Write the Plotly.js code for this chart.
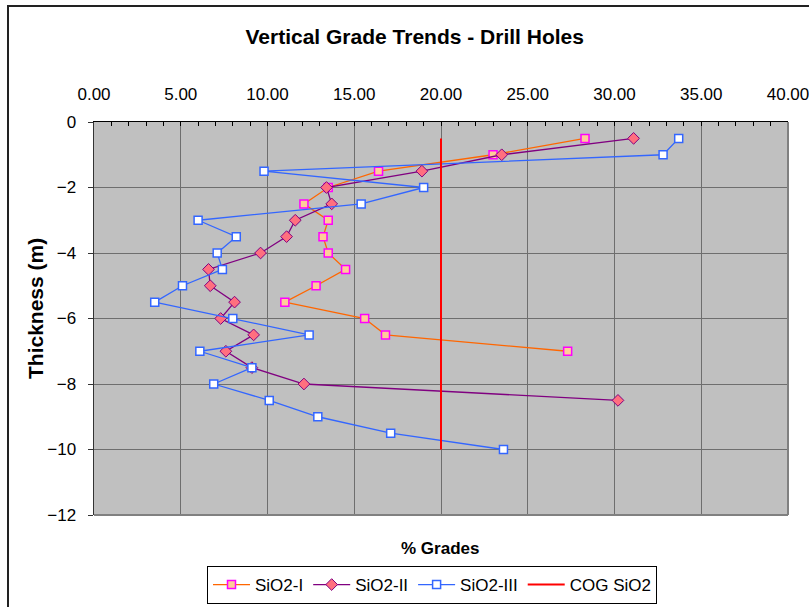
<!DOCTYPE html>
<html>
<head>
<meta charset="utf-8">
<script src="https://cdn.plot.ly/plotly-3.0.1.min.js"></script>
<style>
  html, body { margin: 0; padding: 0; background: #fff; }
  #wrap { position: relative; width: 809px; height: 607px; overflow: hidden; }
  #chart { width: 809px; height: 607px; }
  #frame { position: absolute; left: 7px; top: 5px; width: 900px; height: 700px;
           border: 2px solid #222; pointer-events: none; }
</style>
</head>
<body>
<div id="wrap">
  <div id="chart"></div>
  <div id="frame"></div>
</div>
<script>
// Thickness (m)
const depthI   = [-0.5, -1, -1.5, -2, -2.5, -3, -3.5, -4, -4.5, -5, -5.5, -6, -6.5, -7];
const depthII  = [-0.5, -1, -1.5, -2, -2.5, -3, -3.5, -4, -4.5, -5, -5.5, -6, -6.5, -7, -7.5, -8, -8.5];
const depthIII = [-0.5, -1, -1.5, -2, -2.5, -3, -3.5, -4, -4.5, -5, -5.5, -6, -6.5, -7, -7.5, -8, -8.5, -9, -9.5, -10];
// % Grades
const sio2I   = [28.3, 23.0, 16.4, 13.5, 12.1, 13.5, 13.2, 13.5, 14.5, 12.8, 11.0, 15.6, 16.8, 27.3];
const sio2II  = [31.1, 23.5, 18.9, 13.4, 13.7, 11.6, 11.1, 9.6, 6.6, 6.7, 8.1, 7.3, 9.2, 7.6, 9.1, 12.1, 30.2];
const sio2III = [33.7, 32.8, 9.8, 19.0, 15.4, 6.0, 8.2, 7.1, 7.4, 5.1, 3.5, 8.0, 12.4, 6.1, 9.1, 6.9, 10.1, 12.9, 17.1, 23.6];
const cogX = [20, 20];
const cogY = [-0.5, -10];
const seriesNames = ['SiO2-I', 'SiO2-II', 'SiO2-III', 'COG SiO2'];

const FONT = 'Liberation Sans, Arial, sans-serif';

const traces = [
  { x: sio2I, y: depthI, name: seriesNames[0], type: 'scatter', mode: 'lines+markers',
    line: { color: '#FF6600', width: 1.3 },
    marker: { symbol: 'square', size: 8, color: '#FFCC99', line: { color: '#FF00FF', width: 1.5 } } },
  { x: sio2II, y: depthII, name: seriesNames[1], type: 'scatter', mode: 'lines+markers',
    line: { color: '#800080', width: 1.3 },
    marker: { symbol: 'diamond', size: 9, color: '#FF6F7F', line: { color: '#800080', width: 1 } } },
  { x: sio2III, y: depthIII, name: seriesNames[2], type: 'scatter', mode: 'lines+markers',
    line: { color: '#3366FF', width: 1.3 },
    marker: { symbol: 'square', size: 8, color: '#FFFFFF', line: { color: '#3366FF', width: 1.5 } } },
  { x: cogX, y: cogY, name: seriesNames[3], type: 'scatter', mode: 'lines',
    line: { color: '#FF0000', width: 2 } }
];

const layout = {
  width: 809, height: 607,
  margin: { l: 94, r: 21, t: 122, b: 92, pad: 0, autoexpand: false },
  paper_bgcolor: '#FFFFFF',
  plot_bgcolor: '#C0C0C0',
  font: { family: FONT, size: 17, color: '#000' },
  title: { text: 'Vertical Grade Trends - Drill Holes', xref: 'container', yref: 'container',
           x: 0.5126, y: 1 - 37 / 607, xanchor: 'center', yanchor: 'middle', automargin: false,
           font: { family: FONT, size: 21, weight: 'bold', color: '#000' } },
  xaxis: {
    side: 'top', range: [0, 40], dtick: 5, tick0: 0, tickformat: '.2f',
    showgrid: true, gridcolor: '#6E6E6E', gridwidth: 1, zeroline: false,
    showline: true, linecolor: '#000', linewidth: 1.5,
    ticks: 'inside', ticklen: 4, tickcolor: '#000', tickwidth: 1,
    minor: { dtick: 1, ticks: 'inside', ticklen: 4, tickcolor: '#000', showgrid: false },
    ticklabelstandoff: 14, ticklabeloverflow: 'allow', automargin: false,
    tickfont: { family: FONT, size: 17 },
    fixedrange: true
  },
  yaxis: {
    range: [-12, 0], dtick: 2, tick0: 0,
    showgrid: true, gridcolor: '#6E6E6E', gridwidth: 1, zeroline: false,
    showline: true, linecolor: '#333', linewidth: 1.5,
    ticks: 'outside', ticklen: 5, tickcolor: '#333',
    ticklabelstandoff: 8, automargin: false,
    tickfont: { family: FONT, size: 17 },
    fixedrange: true
  },
  shapes: [
    { type: 'line', xref: 'paper', yref: 'paper', x0: 1, x1: 1, y0: 0, y1: 1, line: { color: '#808080', width: 2 } },
    { type: 'line', xref: 'paper', yref: 'paper', x0: 0, x1: 1, y0: 0, y1: 0, line: { color: '#808080', width: 2 } }
  ],
  annotations: [
    { text: '% Grades', xref: 'paper', yref: 'paper', x: (440 - 94) / 694, y: (515 - 548) / 393,
      xanchor: 'center', yanchor: 'middle', showarrow: false,
      font: { family: FONT, size: 17, weight: 'bold' } },
    { text: 'Thickness (m)', xref: 'paper', yref: 'paper', x: (35 - 94) / 694, y: (515 - 308) / 393,
      xanchor: 'center', yanchor: 'middle', showarrow: false, textangle: -90,
      font: { family: FONT, size: 21, weight: 'bold' } }
  ],
  showlegend: true,
  legend: {
    orientation: 'h', x: (207 - 94) / 694, xanchor: 'left', y: (515 - 604) / 393, yanchor: 'bottom',
    bgcolor: '#FFFFFF', bordercolor: '#000', borderwidth: 1, itemwidth: 37,
    font: { family: FONT, size: 17 }, traceorder: 'normal'
  }
};

Plotly.newPlot('chart', traces, layout, { displayModeBar: false, staticPlot: true });
</script>
</body>
</html>
